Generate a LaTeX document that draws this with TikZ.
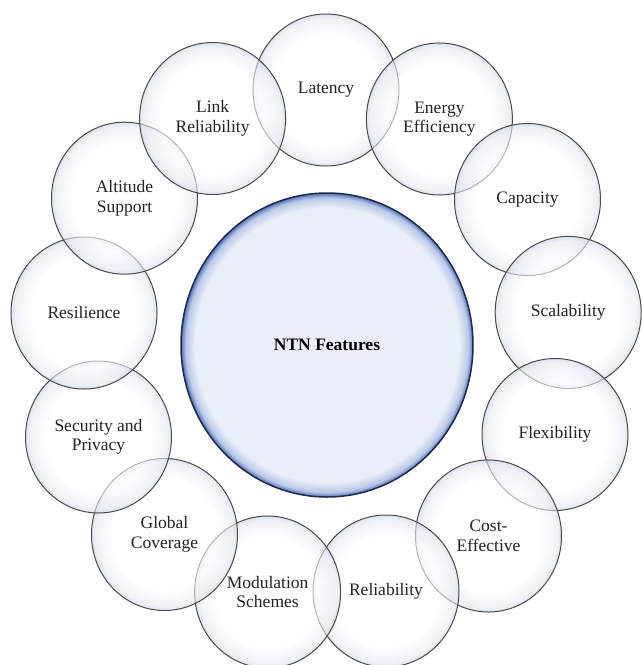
\documentclass[tikz,border=0pt]{standalone}
\usepackage{fontspec}
\setmainfont{Liberation Serif}
\usetikzlibrary{shapes.geometric}

\definecolor{bubblerim}{HTML}{CBD3E4}
\definecolor{bubbleline}{HTML}{4A4A4A}
\definecolor{hubfill}{HTML}{E9EEF8}
\definecolor{hubmid}{HTML}{B9C9E8}
\definecolor{hubblue}{HTML}{5472B8}
\definecolor{hubline}{HTML}{1C2A4C}
\definecolor{labeltext}{HTML}{232323}

\pgfdeclareradialshading{bubbleshade}{\pgfpoint{0bp}{0bp}}{color(0bp)=(white); color(18bp)=(white); color(23.5bp)=(bubblerim!50!white); color(25bp)=(bubblerim); color(50bp)=(bubblerim)}
\pgfdeclareradialshading{hubshade}{\pgfpoint{0bp}{0bp}}{color(0bp)=(hubfill); color(22.6bp)=(hubfill); color(24.2bp)=(hubmid); color(25bp)=(hubblue); color(50bp)=(hubblue)}

\tikzset{
  feature/.style={ellipse, draw=bubbleline, line width=1pt, shading=bubbleshade,
    fill opacity=0.6, text opacity=1, minimum width=146pt, minimum height=152pt,
    inner sep=0pt, align=center, text=labeltext, font=\fontsize{17.5}{19.5}\selectfont},
  corenode/.style={ellipse, draw=hubline, line width=1.5pt, shading=hubshade,
    minimum width=292pt, minimum height=304pt, inner sep=0pt, align=center,
    text=black, font=\fontsize{17.5}{19.5}\selectfont\bfseries}
}

\begin{document}
\begin{tikzpicture}[x=1pt,y=1pt,yscale=-1,xscale=1]
\useasboundingbox (0,0) rectangle (641,665);
\node [feature] (latency) at (326,90) {Latency};
\node [feature] (energy) at (439.4,119) {Energy\\Efficiency};
\node [feature] (capacity) at (527.5,199.5) {Capacity};
\node [feature] (scalability) at (568.2,312.4) {Scalability};
\node [feature] (flexibility) at (555,434.5) {Flexibility};
\node [feature] (cost) at (488.5,536) {Cost-\\Effective};
\node [feature] (reliability) at (386,591) {Reliability};
\node [feature] (modulation) at (267.6,592) {Modulation\\Schemes};
\node [feature] (coverage) at (164.5,534.5) {Global\\Coverage};
\node [feature] (security) at (98.5,437) {Security and\\Privacy};
\node [feature] (resilience) at (84,313) {Resilience};
\node [feature] (altitude) at (124.5,198.2) {Altitude\\Support};
\node [feature] (link) at (212.6,118.5) {Link\\Reliability};
\node [corenode] (ntn) at (327,345) {NTN Features};
\end{tikzpicture}
\end{document}
